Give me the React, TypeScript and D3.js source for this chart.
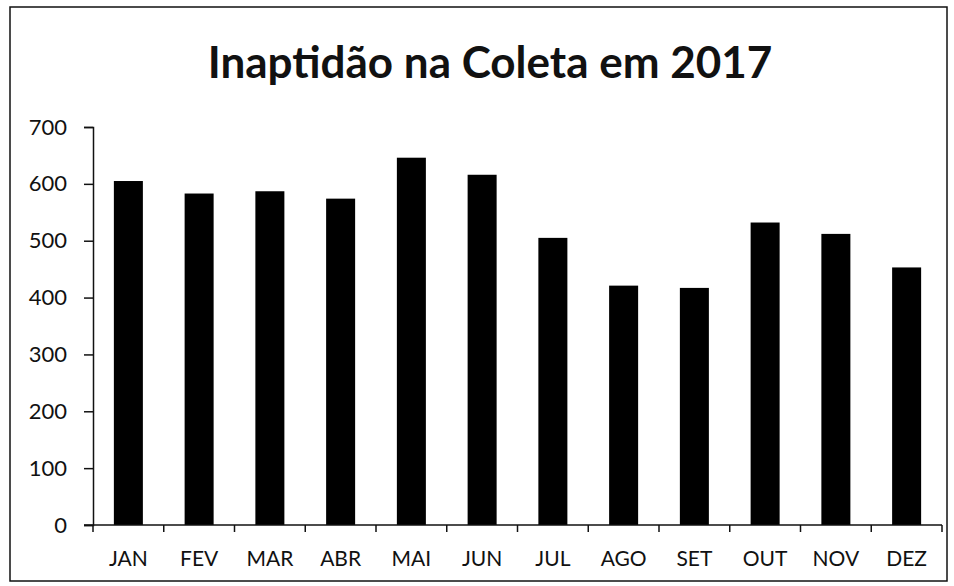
import React, { useEffect, useRef } from 'react';
import * as d3 from 'd3';

// months and values
const months = ['JAN', 'FEV', 'MAR', 'ABR', 'MAI', 'JUN', 'JUL', 'AGO', 'SET', 'OUT', 'NOV', 'DEZ'];
const inaptos = [605, 583, 587, 574, 646, 616, 505, 421, 417, 532, 512, 453];
const yTicks = [0, 100, 200, 300, 400, 500, 600, 700];
const title = 'Inaptidão na Coleta em 2017';

const App = () => {
    const svgRef = useRef<SVGSVGElement>(null);

    useEffect(() => {
        const width = 954;
        const height = 586;
        const margin = { top: 127, right: 12, bottom: 61, left: 93 };
        const font = 'Lato, "Open Sans", sans-serif';

        const svg = d3.select(svgRef.current);
        svg.selectAll('*').remove();

        // chart frame
        svg.append('rect')
            .attr('x', 10)
            .attr('y', 7)
            .attr('width', 937)
            .attr('height', 574)
            .attr('fill', 'white')
            .attr('stroke', '#111')
            .attr('stroke-width', 1.5);

        svg.append('text')
            .attr('x', 490)
            .attr('y', 78)
            .attr('text-anchor', 'middle')
            .style('font-family', font)
            .style('font-weight', 'bold')
            .style('font-size', '44px')
            .attr('fill', '#111')
            .text(title);

        const x = d3.scaleBand()
            .domain(months)
            .range([margin.left, width - margin.right])
            .paddingInner(0.59)
            .paddingOuter(0.295);

        const y = d3.scaleLinear()
            .domain([0, 700])
            .range([height - margin.bottom, margin.top]);

        svg.append('g')
            .selectAll('rect')
            .data(inaptos)
            .join('rect')
            .attr('x', (d, i) => x(months[i]) as number)
            .attr('y', d => y(d))
            .attr('width', x.bandwidth())
            .attr('height', d => y(0) - y(d))
            .attr('fill', '#000');

        // y axis
        const yAxis = svg.append('g')
            .attr('transform', `translate(${margin.left},0)`)
            .call(d3.axisLeft(y).tickValues(yTicks).tickSize(9).tickPadding(17));
        yAxis.select('.domain').attr('stroke', '#111').attr('stroke-width', 1.5);
        yAxis.selectAll('.tick line').attr('stroke', '#111').attr('stroke-width', 1.5);
        yAxis.selectAll('.tick text')
            .style('font-family', font)
            .style('font-size', '22px')
            .attr('fill', '#111');

        // x axis: ticks sit between the categories
        const step = x.step();
        const boundaries = d3.range(months.length + 1).map(i => margin.left + i * step);
        const xAxis = svg.append('g');
        xAxis.append('line')
            .attr('x1', margin.left - 9)
            .attr('x2', width - margin.right)
            .attr('y1', y(0))
            .attr('y2', y(0))
            .attr('stroke', '#111')
            .attr('stroke-width', 1.5);
        xAxis.selectAll('line.tick')
            .data(boundaries)
            .join('line')
            .attr('class', 'tick')
            .attr('x1', d => d)
            .attr('x2', d => d)
            .attr('y1', y(0))
            .attr('y2', y(0) + 7)
            .attr('stroke', '#111')
            .attr('stroke-width', 1.5);
        xAxis.selectAll('text')
            .data(months)
            .join('text')
            .attr('x', d => (x(d) as number) + x.bandwidth() / 2)
            .attr('y', y(0) + 41)
            .attr('text-anchor', 'middle')
            .style('font-family', font)
            .style('font-size', '21px')
            .attr('fill', '#111')
            .text(d => d);
    }, []);

    return (
        <svg
            ref={svgRef}
            width={954}
            height={586}
            style={{ position: 'absolute', left: 0, top: 0, background: 'white' }}
        />
    );
};

export default App;
